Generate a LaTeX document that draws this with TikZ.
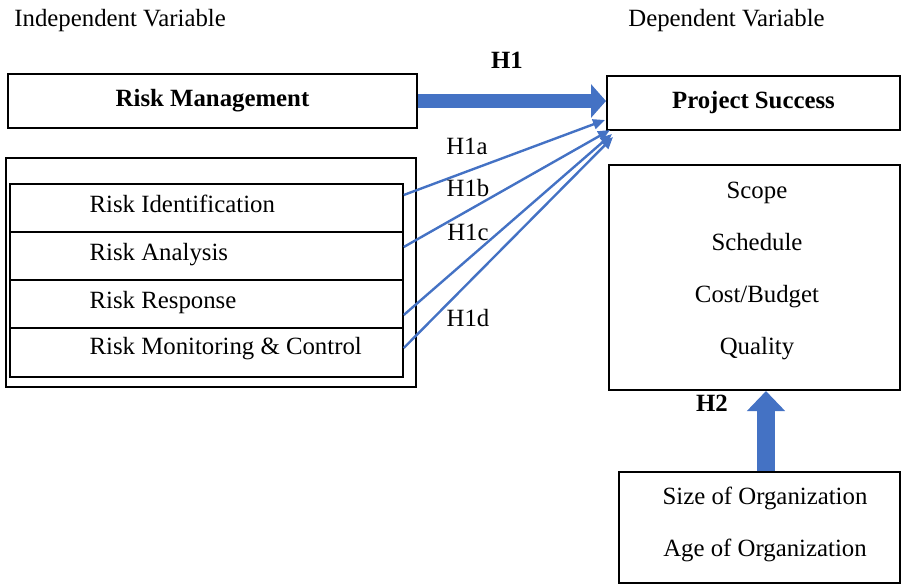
\documentclass[tikz,border=0pt]{standalone}
\usepackage{fontspec}
\setmainfont{Liberation Serif}
\usetikzlibrary{positioning,arrows.meta}
\definecolor{arrowblue}{HTML}{4472C4}
\tikzset{
  >=Stealth,
  box/.style={
    draw,
    line width=1pt,
    align=center,
    inner sep=0pt
  },
  rowbox/.style={
    draw,
    line width=0.75pt,
    minimum width=196.5pt,
    minimum height=24pt,
    inner sep=0pt
  },
  rowtext/.style={anchor=base west, inner sep=0pt},
  hyp/.style={font=\fontsize{12.4}{15}\selectfont\bfseries},
  thinarrow/.style={
    arrowblue,
    line width=1.2pt,
    -{Triangle[length=6pt,width=5pt]}
  }
}

\begin{document}
\begin{tikzpicture}[
      x=0.5pt, y=-0.5pt,
      every node/.style={font=\fontsize{12.4}{15}\selectfont}
    ]
      \useasboundingbox (0,0) rectangle (902,585);

      % headings
      \node[anchor=west, inner sep=0pt] (indep) at (14,21) {Independent Variable};
      \node[anchor=west, inner sep=0pt] (dep) at (628,21) {Dependent Variable};

      % independent side
      \node[box, minimum width=204.5pt, minimum height=27pt, hyp] (riskmgmt) at (212.5,101) {Risk Management};
      \node[box, minimum width=205pt, minimum height=114.5pt] (grp) at (211,272.5) {};
      \node[rowbox] (ident) at (206.5,208) {};
      \node[rowbox] (analysis) at (206.5,256) {};
      \node[rowbox] (response) at (206.5,304) {};
      \node[rowbox, minimum height=24.5pt] (monitor) at (206.5,352.5) {};
      \node[rowtext] at ([xshift=40pt,yshift=-2.1pt]ident.west) {Risk Identification};
      \node[rowtext] at ([xshift=40pt,yshift=-2.1pt]analysis.west) {Risk Analysis};
      \node[rowtext] at ([xshift=40pt,yshift=-2.1pt]response.west) {Risk Response};
      \node[rowtext] at ([xshift=40pt,yshift=-1pt]monitor.west) {Risk Monitoring \& Control};

      % dependent side
      \node[box, minimum width=146.5pt, minimum height=27pt, hyp] (success) at (753.5,103) {Project Success};
      \node[box, minimum width=145.5pt, minimum height=112.5pt] (dims) at (754.5,277.5) {};
      \node[align=center, font=\fontsize{12.4}{26}\selectfont] (dimtext) at (757,271) {Scope\\Schedule\\Cost/Budget\\Quality};
      \node[box, minimum width=140.5pt, minimum height=55.5pt] (factors) at (759.5,527.5) {};
      \node[align=center, font=\fontsize{12.4}{26}\selectfont] (factext) at (765,524.5) {Size of Organization\\Age of Organization};

      % hypotheses
      \draw[arrowblue, line width=7pt, -{Triangle[length=7.5pt,width=16.5pt]}] (riskmgmt.east) -- (riskmgmt.east -| success.west);
      \draw[thinarrow] ([yshift=6.5pt]ident.east) -- ([xshift=-0.5pt,yshift=5.5pt]success.south west);
      \draw[thinarrow] ([yshift=4.5pt]analysis.east) -- ([xshift=2pt,yshift=0.5pt]success.south west);
      \draw[thinarrow] ([yshift=-5.5pt]response.east) -- ([xshift=3pt,yshift=-1.5pt]success.south west);
      \draw[thinarrow] ([yshift=2.25pt]monitor.east) -- ([xshift=3.5pt,yshift=-3pt]success.south west);
      \draw[arrowblue, line width=9pt, -{Triangle[length=10pt,width=18.5pt]}] ([xshift=3.25pt]factors.north) -- ([xshift=3.25pt]factors.north |- dims.south);

      \node[hyp] (lhone) at (507,60) {H1};
      \node (lhonea) at (467,146) {H1a};
      \node (lhoneb) at (468,188) {H1b};
      \node (lhonec) at (468,232) {H1c};
      \node (lhoned) at (468,318) {H1d};
      \node[hyp] (lhtwo) at (712,403) {H2};
    \end{tikzpicture}
\end{document}
